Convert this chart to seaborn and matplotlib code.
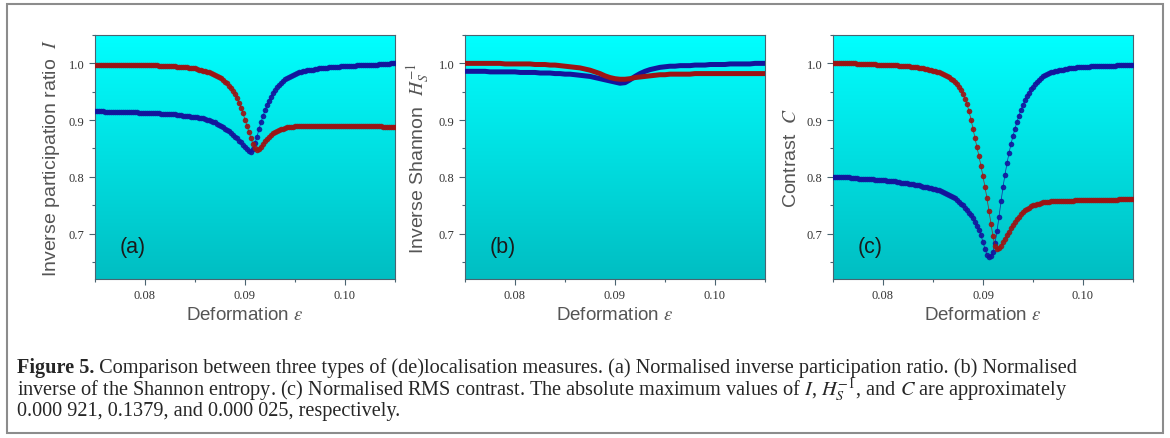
import numpy as np
import matplotlib.pyplot as plt
import seaborn as sns
from matplotlib.colors import LinearSegmentedColormap
from matplotlib.patches import Rectangle
from matplotlib.ticker import MultipleLocator, FormatStrFormatter

# Deformation values of the calculation (a, c: step 2e-4, b: step 5e-4)
eps_fine = np.round(np.linspace(0.075, 0.105, 151), 4)
eps_coarse = np.round(np.linspace(0.075, 0.105, 61), 4)

# (a) inverse participation ratio
ipr_red = [
    0.998, 0.998, 0.998, 0.998, 0.998, 0.998, 0.998, 0.998, 0.998, 0.998,
    0.998, 0.998, 0.998, 0.998, 0.998, 0.998, 0.998, 0.998, 0.998, 0.997,
    0.997, 0.997, 0.997, 0.997, 0.997, 0.997, 0.997, 0.997, 0.997, 0.997,
    0.997, 0.997, 0.996, 0.996, 0.996, 0.996, 0.996, 0.995, 0.995, 0.995,
    0.995, 0.994, 0.994, 0.994, 0.993, 0.993, 0.993, 0.992, 0.992, 0.991,
    0.991, 0.990, 0.989, 0.988, 0.987, 0.986, 0.985, 0.984, 0.983, 0.981,
    0.980, 0.978, 0.976, 0.974, 0.971, 0.968, 0.965, 0.961, 0.957, 0.952,
    0.946, 0.939, 0.931, 0.922, 0.912, 0.901, 0.890, 0.879, 0.868, 0.858,
    0.850, 0.847, 0.849, 0.853, 0.858, 0.863, 0.867, 0.871, 0.874, 0.877,
    0.879, 0.881, 0.883, 0.884, 0.885, 0.886, 0.887, 0.887, 0.888, 0.888,
    0.889, 0.889, 0.889, 0.890, 0.890, 0.890, 0.890, 0.890, 0.890, 0.890,
    0.890, 0.890, 0.890, 0.890, 0.890, 0.890, 0.890, 0.890, 0.890, 0.890,
    0.890, 0.890, 0.890, 0.890, 0.890, 0.890, 0.890, 0.889, 0.889, 0.889,
    0.889, 0.889, 0.889, 0.889, 0.889, 0.889, 0.889, 0.889, 0.889, 0.889,
    0.889, 0.889, 0.889, 0.889, 0.888, 0.888, 0.888, 0.888, 0.888, 0.888, 0.888,
]
ipr_blue = [
    0.916, 0.916, 0.916, 0.916, 0.916, 0.915, 0.915, 0.915, 0.915, 0.915,
    0.915, 0.915, 0.915, 0.914, 0.914, 0.914, 0.914, 0.914, 0.914, 0.914,
    0.914, 0.914, 0.913, 0.913, 0.913, 0.913, 0.913, 0.913, 0.912, 0.912,
    0.912, 0.912, 0.912, 0.911, 0.911, 0.911, 0.911, 0.910, 0.910, 0.910,
    0.910, 0.909, 0.909, 0.909, 0.908, 0.908, 0.907, 0.907, 0.906, 0.906,
    0.905, 0.905, 0.904, 0.903, 0.903, 0.902, 0.901, 0.900, 0.899, 0.897,
    0.896, 0.894, 0.892, 0.890, 0.888, 0.885, 0.883, 0.880, 0.877, 0.874,
    0.871, 0.868, 0.864, 0.861, 0.857, 0.853, 0.849, 0.846, 0.844, 0.849,
    0.859, 0.871, 0.884, 0.896, 0.907, 0.917, 0.926, 0.934, 0.941, 0.947,
    0.953, 0.958, 0.962, 0.966, 0.969, 0.972, 0.974, 0.976, 0.978, 0.980,
    0.982, 0.983, 0.984, 0.985, 0.986, 0.987, 0.988, 0.988, 0.989, 0.989,
    0.990, 0.990, 0.991, 0.991, 0.992, 0.992, 0.992, 0.993, 0.993, 0.993,
    0.994, 0.994, 0.994, 0.995, 0.995, 0.995, 0.995, 0.996, 0.996, 0.996,
    0.996, 0.997, 0.997, 0.997, 0.997, 0.997, 0.998, 0.998, 0.998, 0.998,
    0.998, 0.998, 0.999, 0.999, 0.999, 0.999, 0.999, 0.999, 1.000, 1.000, 1.000,
]

# (b) inverse Shannon entropy
shannon_red = [
    1.000, 1.000, 1.000, 1.000, 1.000, 1.000, 1.000, 1.000, 0.999, 0.999,
    0.999, 0.999, 0.999, 0.999, 0.998, 0.998, 0.998, 0.997, 0.997, 0.996,
    0.995, 0.994, 0.993, 0.992, 0.990, 0.988, 0.985, 0.982, 0.978, 0.975,
    0.973, 0.972, 0.972, 0.973, 0.975, 0.976, 0.977, 0.978, 0.979, 0.980,
    0.980, 0.981, 0.981, 0.981, 0.981, 0.981, 0.982, 0.982, 0.982, 0.982,
    0.982, 0.982, 0.982, 0.982, 0.982, 0.982, 0.982, 0.982, 0.982, 0.982, 0.982,
]
shannon_blue = [
    0.986, 0.986, 0.986, 0.986, 0.986, 0.985, 0.985, 0.985, 0.985, 0.985,
    0.985, 0.984, 0.984, 0.984, 0.984, 0.983, 0.983, 0.983, 0.982, 0.982,
    0.981, 0.981, 0.980, 0.979, 0.978, 0.977, 0.975, 0.973, 0.971, 0.969,
    0.967, 0.965, 0.966, 0.971, 0.977, 0.982, 0.986, 0.989, 0.991, 0.993,
    0.994, 0.995, 0.995, 0.996, 0.996, 0.996, 0.997, 0.997, 0.997, 0.998,
    0.998, 0.998, 0.998, 0.999, 0.999, 0.999, 0.999, 0.999, 1.000, 1.000, 1.000,
]

# (c) RMS contrast
contrast_red = [
    1.000, 1.000, 1.000, 1.000, 1.000, 1.000, 1.000, 1.000, 1.000, 1.000,
    1.000, 1.000, 0.999, 0.999, 0.999, 0.999, 0.999, 0.999, 0.999, 0.999,
    0.999, 0.999, 0.998, 0.998, 0.998, 0.998, 0.998, 0.998, 0.997, 0.997,
    0.997, 0.997, 0.997, 0.996, 0.996, 0.996, 0.995, 0.995, 0.995, 0.994,
    0.994, 0.993, 0.993, 0.992, 0.992, 0.991, 0.990, 0.990, 0.989, 0.988,
    0.987, 0.986, 0.985, 0.984, 0.983, 0.981, 0.980, 0.978, 0.976, 0.973,
    0.970, 0.967, 0.963, 0.958, 0.953, 0.946, 0.938, 0.928, 0.916, 0.901,
    0.885, 0.868, 0.852, 0.836, 0.819, 0.801, 0.782, 0.762, 0.740, 0.717,
    0.695, 0.678, 0.672, 0.674, 0.679, 0.685, 0.691, 0.697, 0.703, 0.709,
    0.715, 0.720, 0.725, 0.730, 0.734, 0.738, 0.741, 0.744, 0.746, 0.748,
    0.750, 0.751, 0.752, 0.753, 0.754, 0.755, 0.755, 0.756, 0.756, 0.757,
    0.757, 0.757, 0.757, 0.758, 0.758, 0.758, 0.758, 0.758, 0.758, 0.758,
    0.758, 0.759, 0.759, 0.759, 0.759, 0.759, 0.759, 0.759, 0.759, 0.759,
    0.759, 0.760, 0.760, 0.760, 0.760, 0.760, 0.760, 0.760, 0.760, 0.760,
    0.760, 0.760, 0.760, 0.761, 0.761, 0.761, 0.761, 0.761, 0.761, 0.761, 0.761,
]
contrast_blue = [
    0.800, 0.800, 0.800, 0.800, 0.799, 0.799, 0.799, 0.799, 0.799, 0.798,
    0.798, 0.798, 0.798, 0.797, 0.797, 0.797, 0.797, 0.796, 0.796, 0.796,
    0.796, 0.795, 0.795, 0.795, 0.794, 0.794, 0.794, 0.793, 0.793, 0.793,
    0.792, 0.792, 0.791, 0.791, 0.790, 0.790, 0.789, 0.789, 0.788, 0.788,
    0.787, 0.786, 0.786, 0.785, 0.784, 0.783, 0.783, 0.782, 0.781, 0.780,
    0.779, 0.778, 0.777, 0.776, 0.775, 0.773, 0.772, 0.770, 0.768, 0.766,
    0.764, 0.762, 0.759, 0.756, 0.753, 0.750, 0.746, 0.742, 0.737, 0.732,
    0.727, 0.721, 0.714, 0.707, 0.697, 0.685, 0.673, 0.663, 0.658, 0.660,
    0.668, 0.683, 0.704, 0.730, 0.757, 0.782, 0.804, 0.824, 0.842, 0.858,
    0.872, 0.885, 0.897, 0.908, 0.918, 0.927, 0.935, 0.942, 0.948, 0.954,
    0.959, 0.964, 0.968, 0.971, 0.974, 0.977, 0.979, 0.981, 0.983, 0.984,
    0.985, 0.986, 0.987, 0.988, 0.989, 0.989, 0.990, 0.990, 0.991, 0.991,
    0.992, 0.992, 0.993, 0.993, 0.993, 0.994, 0.994, 0.994, 0.994, 0.995,
    0.995, 0.995, 0.995, 0.995, 0.996, 0.996, 0.996, 0.996, 0.996, 0.996,
    0.996, 0.996, 0.997, 0.997, 0.997, 0.997, 0.997, 0.997, 0.997, 0.997, 0.997,
]

y_labels = [r'Inverse participation ratio  $I$', r'Inverse Shannon  $H_S^{-1}$', r'Contrast  $C$']
panel_tags = ['(a)', '(b)', '(c)']
caption_lines = [
    'Comparison between three types of (de)localisation measures. (a) Normalised '
    'inverse participation ratio. (b) Normalised',
    'inverse of the Shannon entropy. (c) Normalised RMS contrast. The absolute '
    r'maximum values of $I$, $H_S^{-1}$, and $C$ are approximately',
    '0.000 921, 0.1379, and 0.000 025, respectively.',
]

RED = '#9c1414'
BLUE = '#14149c'
SPINE = '#4a6470'

sns.set_style('ticks')
plt.rcParams['font.family'] = ['Liberation Sans', 'DejaVu Sans']
plt.rcParams['mathtext.fontset'] = 'stix'

fig = plt.figure(figsize=(11.7, 4.39), dpi=100)
W, H = 1170, 439
lefts = [95, 465, 833]
axes = [fig.add_axes([l / W, 1 - 280 / H, 300 / W, 244 / H]) for l in lefts]

bg = LinearSegmentedColormap.from_list('bg', ['#00bec2', '#00ffff'])
grad = np.linspace(0, 1, 256).reshape(-1, 1)

panels = [
    (eps_fine, ipr_blue, ipr_red, True),
    (eps_coarse, shannon_blue, shannon_red, False),
    (eps_fine, contrast_blue, contrast_red, True),
]

for ax, (x, yb, yr, dotted), ylab, tag in zip(axes, panels, y_labels, panel_tags):
    ax.imshow(grad, cmap=bg, origin='lower', extent=[0, 1, 0, 1],
              transform=ax.transAxes, aspect='auto', zorder=0)
    for y, c in [(yb, BLUE), (yr, RED)]:
        if dotted:
            sns.lineplot(x=x, y=y, ax=ax, color=c, lw=0.5, alpha=0.9,
                         marker='o', markersize=4.0, markeredgewidth=0,
                         estimator=None, zorder=3)
        else:
            sns.lineplot(x=x, y=y, ax=ax, color=c, lw=3.6,
                         estimator=None, zorder=3)
    ax.set_xlim(0.075, 0.105)
    ax.set_ylim(0.62, 1.05)
    ax.xaxis.set_major_locator(MultipleLocator(0.01))
    ax.xaxis.set_minor_locator(MultipleLocator(0.005))
    ax.yaxis.set_major_locator(MultipleLocator(0.1))
    ax.yaxis.set_minor_locator(MultipleLocator(0.05))
    ax.xaxis.set_major_formatter(FormatStrFormatter('%.2f'))
    ax.yaxis.set_major_formatter(FormatStrFormatter('%.1f'))
    ax.tick_params(which='both', direction='out', color=SPINE, width=0.8,
                   labelsize=9, labelcolor='#333333',
                   labelfontfamily='Liberation Serif')
    ax.tick_params(which='major', length=4)
    ax.tick_params(which='minor', length=2.5)
    for s in ax.spines.values():
        s.set_color(SPINE)
        s.set_linewidth(0.8)
    ax.set_xlabel(r'Deformation $\varepsilon$', fontsize=13.5, color='#555555', labelpad=3)
    ax.set_ylabel(ylab, fontsize=14, color='#555555', labelpad=5)
    ax.text(0.083, 0.135, tag, transform=ax.transAxes, fontsize=15.5,
            color='#1a1a1a', ha='left', va='center', zorder=4)

# caption
cap_y = [1 - 368 / H, 1 - 390 / H, 1 - 412 / H]
head = fig.text(17 / W, cap_y[0], 'Figure 5.', fontweight='bold',
                family='Liberation Serif', fontsize=14.6, va='center')
axes[0].annotate(' ' + caption_lines[0], xy=(1, 0), xycoords=head,
                 va='bottom', ha='left', family='Liberation Serif',
                 fontsize=14.6, annotation_clip=False)
for line, yy in zip(caption_lines[1:], cap_y[1:]):
    fig.text(17 / W, yy, line, family='Liberation Serif', fontsize=14.6, va='center')

fig.add_artist(Rectangle((7 / W, 1 - 434 / H), 1156 / W, 429 / H,
                         transform=fig.transFigure, fill=False,
                         edgecolor='#8c8c8c', lw=1.5))

plt.savefig('out.png', dpi=100)
